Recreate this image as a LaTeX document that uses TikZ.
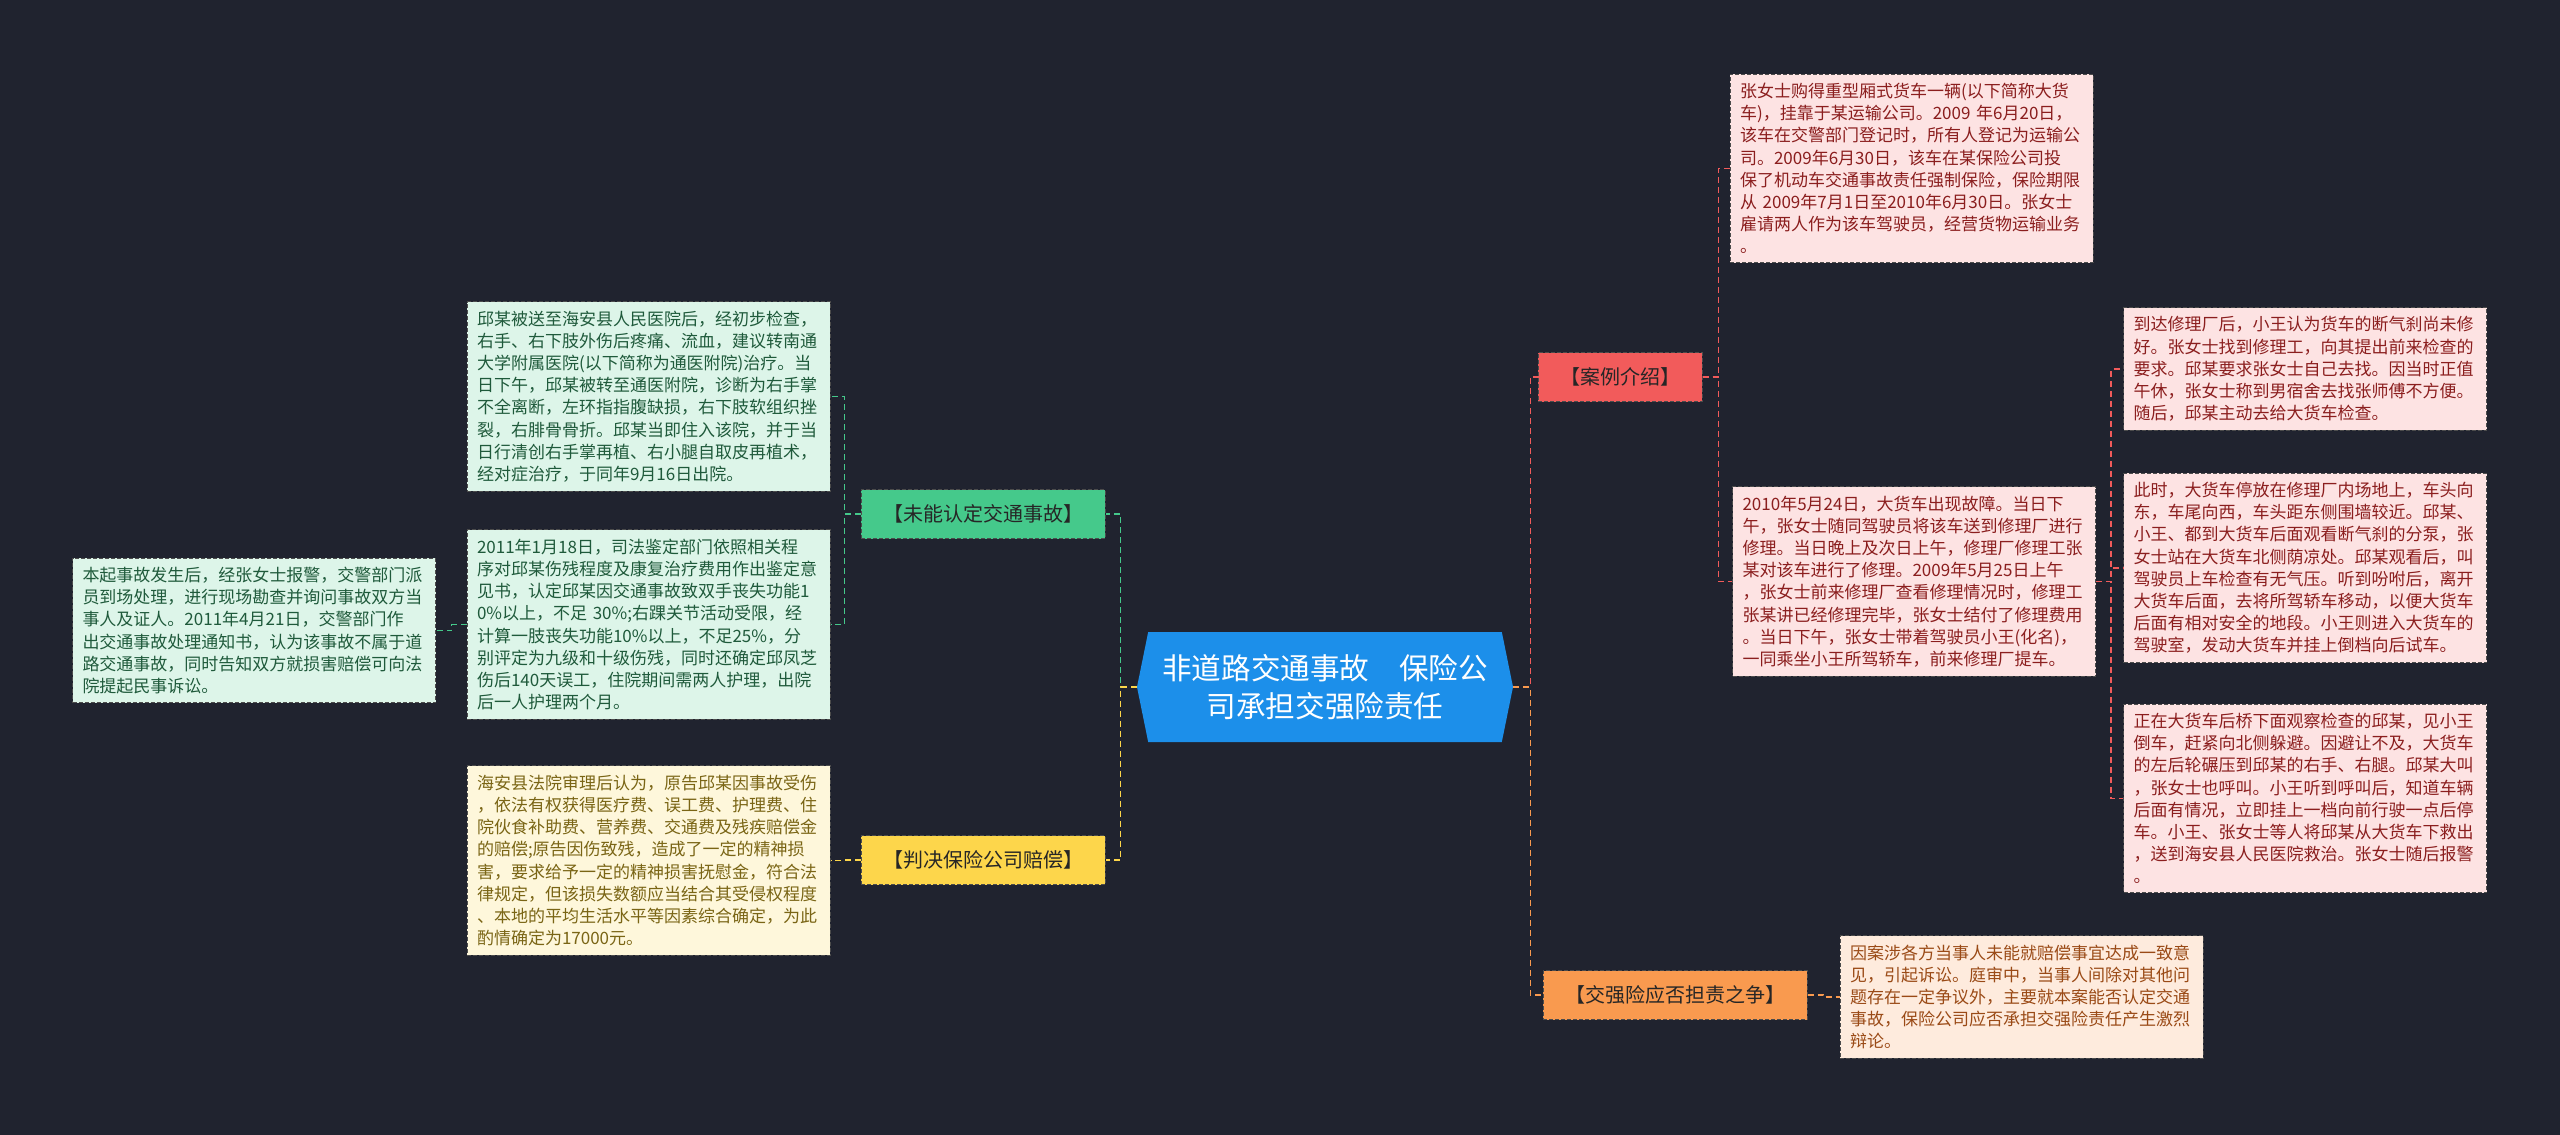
\documentclass[tikz,border=0pt]{standalone}
\usepackage{fontspec}
\setmainfont{Noto Sans CJK SC}
\usepackage{tikz}
\usetikzlibrary{positioning}
\usetikzlibrary{shapes.symbols}
\definecolor{bgnavy}{HTML}{20232F}
\definecolor{hubblue}{HTML}{1C8FEA}
\definecolor{catgreen}{HTML}{45C98B}
\definecolor{catyellow}{HTML}{FDD64B}
\definecolor{catred}{HTML}{F25B5B}
\definecolor{catorange}{HTML}{F99A4F}
\definecolor{greenfill}{HTML}{DDF5E9}
\definecolor{yellowfill}{HTML}{FEF7DB}
\definecolor{pinkfill}{HTML}{FDE3E3}
\definecolor{orangefill}{HTML}{FEEBDD}
\definecolor{greentext}{HTML}{1F5A3B}
\definecolor{yellowtext}{HTML}{7A6515}
\definecolor{redtext}{HTML}{8B1E1E}
\definecolor{orangetext}{HTML}{9A4A16}
\definecolor{cattext}{HTML}{262626}
\tikzset{
  hubnode/.style={signal, signal to=west and east, signal pointer angle=157,
    minimum width=188pt, minimum height=55pt, fill=hubblue, text=white,
    align=center, font=\fontsize{14.8}{19}\selectfont},
  catnode/.style={draw=black!70, dash pattern=on 2pt off 1pt, line width=0.5pt,
    inner xsep=11pt, minimum height=24.5pt, text=cattext,
    font=\fontsize{10}{12}\selectfont},
  leafbox/.style={draw=black!70, dash pattern=on 2pt off 1pt, line width=0.5pt,
    text width=171.5pt, inner xsep=5pt, inner ysep=4.5pt, align=left,
    font=\fontsize{8.5}{11.1}\selectfont},
  greenleaf/.style={leafbox, fill=greenfill, text=greentext},
  yellowleaf/.style={leafbox, fill=yellowfill, text=yellowtext},
  pinkleaf/.style={leafbox, fill=pinkfill, text=redtext},
  orangeleaf/.style={leafbox, fill=orangefill, text=orangetext},
  link/.style={dash pattern=on 3pt off 2pt, line width=0.8pt}
}
\begin{document}
\begin{tikzpicture}[x=0.5pt, y=-0.5pt]
\fill[bgnavy] (0,0) rectangle (2560,1135);
\useasboundingbox (0,0) rectangle (2560,1135);

\node[hubnode] (hub) at (1325,687) {非道路交通事故　保险公\\司承担交强险责任};

\node[catnode, fill=catgreen] (unrec) at (983,514) {【未能认定交通事故】};
\node[catnode, fill=catyellow] (verdict) at (983,860) {【判决保险公司赔偿】};
\node[catnode, fill=catred] (intro) at (1620,377) {【案例介绍】};
\node[catnode, fill=catorange] (dispute) at (1675,995) {【交强险应否担责之争】};

\node[pinkleaf] (buy) at (1911.5,168.5) {张女士购得重型厢式货车一辆(以下简称大货\\
车)，挂靠于某运输公司。2009 年6月20日，\\
该车在交警部门登记时，所有人登记为运输公\\
司。2009年6月30日，该车在某保险公司投\\
保了机动车交通事故责任强制保险，保险期限\\
从 2009年7月1日至2010年6月30日。张女士\\
雇请两人作为该车驾驶员，经营货物运输业务\\
。};
\node[pinkleaf] (repair) at (1914,581.5) {2010年5月24日，大货车出现故障。当日下\\
午，张女士随同驾驶员将该车送到修理厂进行\\
修理。当日晚上及次日上午，修理厂修理工张\\
某对该车进行了修理。2009年5月25日上午\\
，张女士前来修理厂查看修理情况时，修理工\\
张某讲已经修理完毕，张女士结付了修理费用\\
。当日下午，张女士带着驾驶员小王(化名)，\\
一同乘坐小王所驾轿车，前来修理厂提车。};
\node[pinkleaf] (arrive) at (2305,369) {到达修理厂后，小王认为货车的断气刹尚未修\\
好。张女士找到修理工，向其提出前来检查的\\
要求。邱某要求张女士自己去找。因当时正值\\
午休，张女士称到男宿舍去找张师傅不方便。\\
随后，邱某主动去给大货车检查。};
\node[pinkleaf] (parked) at (2305,568) {此时，大货车停放在修理厂内场地上，车头向\\
东，车尾向西，车头距东侧围墙较近。邱某、\\
小王、都到大货车后面观看断气刹的分泵，张\\
女士站在大货车北侧荫凉处。邱某观看后，叫\\
驾驶员上车检查有无气压。听到吩咐后，离开\\
大货车后面，去将所驾轿车移动，以便大货车\\
后面有相对安全的地段。小王则进入大货车的\\
驾驶室，发动大货车并挂上倒档向后试车。};
\node[pinkleaf] (crush) at (2305,798.5) {正在大货车后桥下面观察检查的邱某，见小王\\
倒车，赶紧向北侧躲避。因避让不及，大货车\\
的左后轮碾压到邱某的右手、右腿。邱某大叫\\
，张女士也呼叫。小王听到呼叫后，知道车辆\\
后面有情况，立即挂上一档向前行驶一点后停\\
车。小王、张女士等人将邱某从大货车下救出\\
，送到海安县人民医院救治。张女士随后报警\\
。};
\node[orangeleaf] (lawsuit) at (2021.5,997) {因案涉各方当事人未能就赔偿事宜达成一致意\\
见，引起诉讼。庭审中，当事人间除对其他问\\
题存在一定争议外，主要就本案能否认定交通\\
事故，保险公司应否承担交强险责任产生激烈\\
辩论。};

\node[greenleaf] (hospital) at (648.5,396.5) {邱某被送至海安县人民医院后，经初步检查，\\
右手、右下肢外伤后疼痛、流血，建议转南通\\
大学附属医院(以下简称为通医附院)治疗。当\\
日下午，邱某被转至通医附院，诊断为右手掌\\
不全离断，左环指指腹缺损，右下肢软组织挫\\
裂，右腓骨骨折。邱某当即住入该院，并于当\\
日行清创右手掌再植、右小腿自取皮再植术，\\
经对症治疗，于同年9月16日出院。};
\node[greenleaf] (appraisal) at (648.5,624.5) {2011年1月18日，司法鉴定部门依照相关程\\
序对邱某伤残程度及康复治疗费用作出鉴定意\\
见书，认定邱某因交通事故致双手丧失功能1\\
0\%以上，不足 30\%;右踝关节活动受限，经\\
计算一肢丧失功能10\%以上，不足25\%，分\\
别评定为九级和十级伤残，同时还确定邱凤芝\\
伤后140天误工，住院期间需两人护理，出院\\
后一人护理两个月。};
\node[greenleaf] (police) at (254,630.5) {本起事故发生后，经张女士报警，交警部门派\\
员到场处理，进行现场勘查并询问事故双方当\\
事人及证人。2011年4月21日，交警部门作\\
出交通事故处理通知书，认为该事故不属于道\\
路交通事故，同时告知双方就损害赔偿可向法\\
院提起民事诉讼。};
\node[yellowleaf] (court) at (648.5,860.5) {海安县法院审理后认为，原告邱某因事故受伤\\
，依法有权获得医疗费、误工费、护理费、住\\
院伙食补助费、营养费、交通费及残疾赔偿金\\
的赔偿;原告因伤致残，造成了一定的精神损\\
害，要求给予一定的精神损害抚慰金，符合法\\
律规定，但该损失数额应当结合其受侵权程度\\
、本地的平均生活水平等因素综合确定，为此\\
酌情确定为17000元。};

\draw[link, catgreen] (hub.west) -- ++(-16,0) |- (unrec.east);
\draw[link, catyellow] (hub.west) -- ++(-16,0) |- (verdict.east);
\draw[link, catred] (hub.east) -- ++(17,0) |- (intro.west);
\draw[link, catorange] (hub.east) -- ++(17,0) |- (dispute.west);

\draw[link, catgreen] (unrec.west) -- ++(-16,0) |- (hospital.east);
\draw[link, catgreen] (unrec.west) -- ++(-16,0) |- (appraisal.east);
\draw[link, catgreen] (appraisal.west) -- ++(-15,0) |- (police.east);
\draw[link, catyellow] (verdict.west) -- ++(-16,0) |- (court.east);

\draw[link, catred] (intro.east) -- ++(16,0) |- (buy.west);
\draw[link, catred] (intro.east) -- ++(16,0) |- (repair.west);
\draw[link, catred] (repair.east) -- ++(15,0) |- (arrive.west);
\draw[link, catred] (repair.east) -- ++(15,0) |- (parked.west);
\draw[link, catred] (repair.east) -- ++(15,0) |- (crush.west);
\draw[link, catorange] (dispute.east) -- ++(16,0) |- (lawsuit.west);
\end{tikzpicture}
\end{document}
